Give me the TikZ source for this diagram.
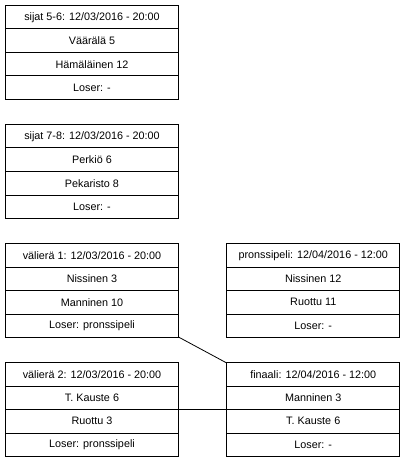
\documentclass[tikz,border=0pt]{standalone}
\usepackage{fontspec}
\setmainfont{Liberation Sans}
\tikzset{
  gbox/.style={draw, line width=1pt, minimum width=173pt, minimum height=94pt, inner sep=0pt, outer sep=0pt},
  rowtext/.style={font=\fontsize{10.8}{13}\selectfont, inner sep=0pt, anchor=center},
  rowsep/.style={line width=1pt},
  link/.style={line width=0.8pt}
}
\newcommand{\gamebox}[7]{%
  \node[gbox] (#1) at ({#2+86.5},{#3+47}) {};
  \draw[rowsep] ([yshift=-23.5pt]#1.north west) -- ([yshift=-23.5pt]#1.north east);
  \draw[rowsep] ([yshift=-47pt]#1.north west) -- ([yshift=-47pt]#1.north east);
  \draw[rowsep] ([yshift=-70.5pt]#1.north west) -- ([yshift=-70.5pt]#1.north east);
  \node[rowtext] (#1-h) at ([yshift=-11.75pt]#1.north) {#4};
  \node[rowtext] (#1-a) at ([yshift=-35.25pt]#1.north) {#5};
  \node[rowtext] (#1-b) at ([yshift=-58.75pt]#1.north) {#6};
  \node[rowtext] (#1-l) at ([yshift=-82.25pt]#1.north) {#7};
}
\begin{document}
\begin{tikzpicture}[x=1pt,y=-1pt]
  \useasboundingbox (0,0) rectangle (404,462);
  \gamebox{s56}{5.5}{5.5}{sijat 5-6: 12/03/2016 - 20:00}{Väärälä 5}{Hämäläinen 12}{Loser: -}
  \gamebox{s78}{5.5}{124.5}{sijat 7-8: 12/03/2016 - 20:00}{Perkiö 6}{Pekaristo 8}{Loser: -}
  \gamebox{v1}{5.5}{243.5}{välierä 1: 12/03/2016 - 20:00}{Nissinen 3}{Manninen 10}{Loser: pronssipeli}
  \gamebox{pr}{226.75}{243.5}{pronssipeli: 12/04/2016 - 12:00}{Nissinen 12}{Ruottu 11}{Loser: -}
  \gamebox{v2}{5.5}{362.5}{välierä 2: 12/03/2016 - 20:00}{T. Kauste 6}{Ruottu 3}{Loser: pronssipeli}
  \gamebox{fin}{226.75}{362.5}{finaali: 12/04/2016 - 12:00}{Manninen 3}{T. Kauste 6}{Loser: -}
  \draw[link] (v1) -- (fin);
  \draw[link] (v2) -- (fin);
\end{tikzpicture}
\end{document}
